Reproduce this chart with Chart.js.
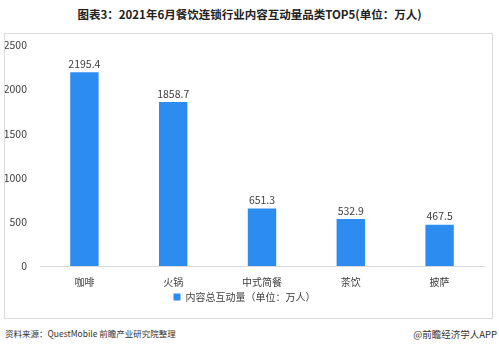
<!DOCTYPE html>
<html><head><meta charset="utf-8">
<script src="https://cdn.jsdelivr.net/npm/chart.js@4/dist/chart.umd.min.js"></script>
<style>
html,body{margin:0;padding:0;background:#fff;width:499px;height:350px;overflow:hidden;font-family:"Noto Sans CJK SC","Noto Sans",sans-serif;}
#title{position:absolute;left:0;top:6px;width:499px;text-align:center;font-size:11.5px;font-weight:bold;color:#222;}
#box{position:absolute;left:4px;top:33px;width:487px;height:284px;border:1px solid #dcdcdc;}
#src{position:absolute;left:5px;top:327px;font-size:8.5px;color:#333;}
#app{position:absolute;right:2px;top:327px;font-size:9.5px;color:#333;}
</style></head>
<body>
<div id="title">图表3：2021年6月餐饮连锁行业内容互动量品类TOP5(单位：万人)</div>
<div id="box"><canvas id="c" width="487" height="284"></canvas></div>
<div id="src">资料来源：QuestMobile 前瞻产业研究院整理</div>
<div id="app">@前瞻经济学人APP</div>
<script>
const categories = ["咖啡","火锅","中式简餐","茶饮","披萨"];
const values = [2195.4, 1858.7, 651.3, 532.9, 467.5];
const yTicks = [0, 500, 1000, 1500, 2000, 2500];
const seriesName = "内容总互动量（单位：万人）";

const valueLabels = {
  id:'valueLabels',
  afterDatasetsDraw(chart){
    const ctx = chart.ctx;
    const meta = chart.getDatasetMeta(0);
    ctx.save();
    ctx.font = '10.5px "Noto Sans CJK SC", sans-serif';
    ctx.fillStyle = '#404040';
    ctx.textAlign = 'center';
    ctx.textBaseline = 'bottom';
    meta.data.forEach((bar,i)=>{
      ctx.fillText(values[i].toFixed(1), bar.x, bar.y - 3);
    });
    ctx.restore();
  }
};

new Chart(document.getElementById('c'), {
  type:'bar',
  data:{labels:categories, datasets:[{label:seriesName, data:values, backgroundColor:'#2D8CF0', barPercentage:0.64, categoryPercentage:0.5}]},
  options:{
    responsive:false, animation:false,
    layout:{padding:{top:6,right:8,left:0,bottom:6}},
    plugins:{
      legend:{position:'bottom', labels:{boxWidth:7, boxHeight:7, padding:2, color:'#404040', font:{size:10, family:'"Noto Sans CJK SC", sans-serif'}}},
      tooltip:{enabled:false}
    },
    scales:{
      x:{grid:{display:false}, border:{color:'#d9d9d9'}, ticks:{color:'#404040', font:{size:10, family:'"Noto Sans CJK SC", sans-serif'}, padding:2}},
      y:{min:0, max:2500, afterBuildTicks(s){ s.ticks = yTicks.map(v=>({value:v})); }, afterFit(s){ s.width = 35; },
         grid:{display:false}, border:{display:false}, ticks:{color:'#404040', padding:5, callback:(v)=>String(v), font:{size:10.5, family:'"Noto Sans CJK SC", sans-serif'}}}
    }
  },
  plugins:[valueLabels]
});
</script>
</body></html>
